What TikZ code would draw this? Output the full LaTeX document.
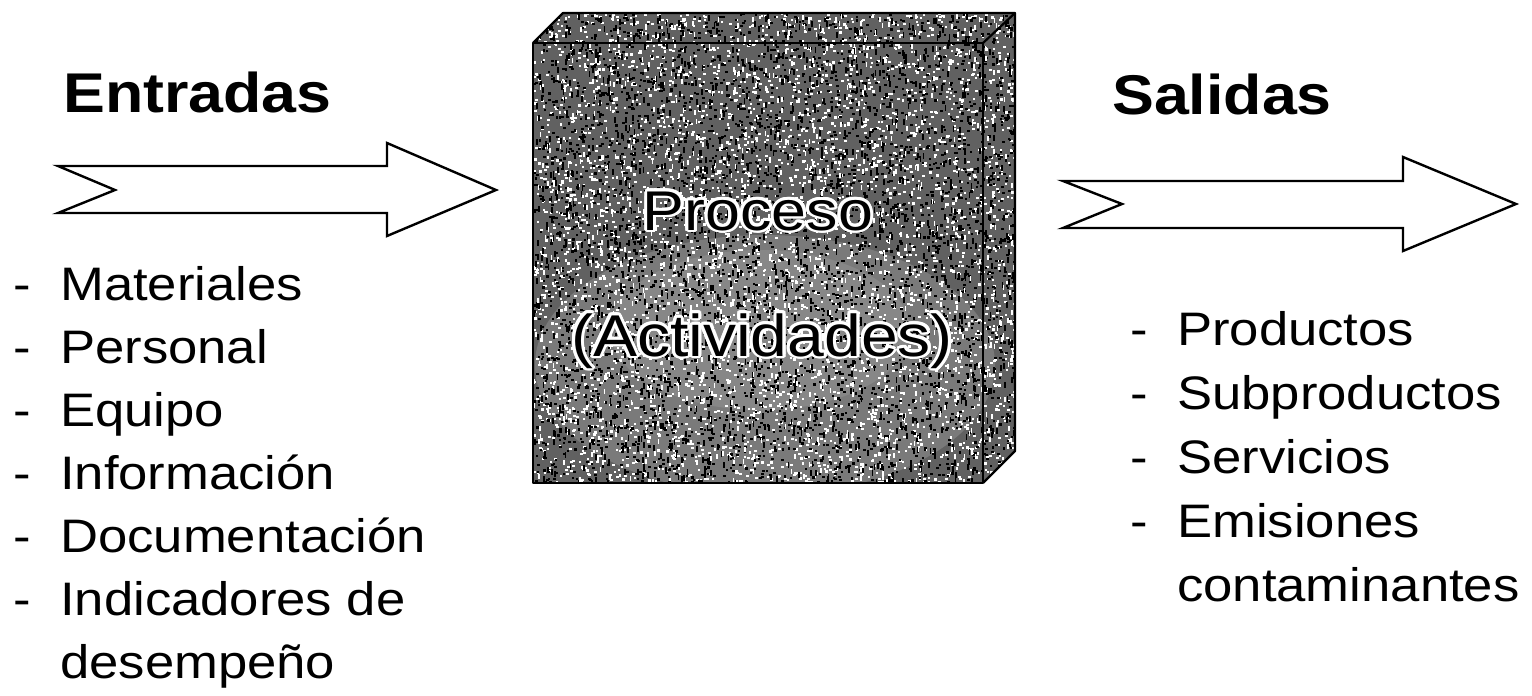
\documentclass[tikz,border=0pt]{standalone}
\usepackage{fontspec}
\setmainfont{Liberation Sans}[FakeStretch=1.12]
\tikzset{
  listtxt/.style={anchor=base west, inner sep=0pt, font=\fontsize{47}{56}\selectfont},
  headtxt/.style={anchor=base west, inner sep=0pt, font=\fontsize{56}{64}\selectfont\bfseries},
  proctxt/.style={anchor=base, inner sep=0pt},
  fatarrow/.style={draw=black, fill=white, line width=2.4pt, line join=miter},
  boxedge/.style={draw=black, line width=2.2pt, line join=round},
}
\newcommand{\dashitem}[1]{\makebox[47pt][l]{-}#1}
\newcommand{\halotext}[4]{%
  \foreach \a in {0,20,...,340}{\node[proctxt, font=#4, white, shift={(\a:3pt)}] at (#2) {#3};}
  \node[proctxt, font=#4, black] (#1) at (#2) {#3};}
\begin{document}
\begin{tikzpicture}[x=1pt, y=-1pt]
\useasboundingbox[fill=white] (0,0) rectangle (1532,696);

% ---------- headings ----------
\node[headtxt] (entradas) at (63,112) {Entradas};
\node[headtxt] (salidas) at (1112,114) {Salidas};

% ---------- left arrow ----------
\coordinate (la1) at (58,166);
\coordinate (la2) at (387,166);
\coordinate (la3) at (387,143);
\coordinate (latip) at (496,190);
\coordinate (la4) at (387,236);
\coordinate (la5) at (387,213);
\coordinate (la6) at (58,213);
\coordinate (lanotch) at (115,190);
\path[fatarrow] (la1) -- (la2) -- (la3) -- (latip) -- (la4) -- (la5) -- (la6) -- (lanotch) -- cycle;

% ---------- right arrow ----------
\coordinate (ra1) at (1063,181);
\coordinate (ra2) at (1403,181);
\coordinate (ra3) at (1403,157);
\coordinate (ratip) at (1516,204);
\coordinate (ra4) at (1403,251);
\coordinate (ra5) at (1403,228);
\coordinate (ra6) at (1063,228);
\coordinate (ranotch) at (1122,204);
\path[fatarrow] (ra1) -- (ra2) -- (ra3) -- (ratip) -- (ra4) -- (ra5) -- (ra6) -- (ranotch) -- cycle;

% ---------- process box ----------
\coordinate (fTL) at (533,43);
\coordinate (fTR) at (983,43);
\coordinate (fBR) at (983,483);
\coordinate (fBL) at (533,483);
\coordinate (bTL) at (563,13);
\coordinate (bTR) at (1015,13);
\coordinate (bBR) at (1015,451);
\begin{scope}
  \clip (fTL) -- (bTL) -- (bTR) -- (bBR) -- (fBR) -- (fBL) -- cycle;
  \fill[black!62] (533,13) rectangle (1015,483);
  \fill[white, opacity=0.16] (765,365) ellipse [x radius=230, y radius=130];
  \fill[white, opacity=0.10] (760,330) ellipse [x radius=150, y radius=80];
  \pgfmathsetseed{4242}
  \foreach \i in {1,...,4200}{%
    \pgfmathsetmacro{\xx}{533+482*rnd}%
    \pgfmathsetmacro{\yy}{13+470*rnd}%
    \fill[white] (\xx,\yy) rectangle ++(2.6,2.2);}
  \foreach \i in {1,...,3800}{%
    \pgfmathsetmacro{\xx}{533+482*rnd}%
    \pgfmathsetmacro{\yy}{13+470*rnd}%
    \fill[black] (\xx,\yy) rectangle ++(2.6,2.2);}
  \foreach \i in {1,...,1200}{%
    \pgfmathsetmacro{\xx}{533+482*rnd}%
    \pgfmathsetmacro{\yy}{13+470*rnd}%
    \fill[black] (\xx,\yy) rectangle ++(1.8,6);}
  \foreach \i in {1,...,700}{%
    \pgfmathsetmacro{\xx}{533+482*rnd}%
    \pgfmathsetmacro{\yy}{13+470*rnd}%
    \fill[white] (\xx,\yy) rectangle ++(1.6,5);}
\end{scope}
\draw[boxedge] (fTL) -- (fTR) -- (fBR) -- (fBL) -- cycle;
\draw[boxedge] (fTL) -- (bTL) -- (bTR) -- (fTR);
\draw[boxedge] (bTR) -- (bBR) -- (fBR);

\halotext{proceso}{758,230}{Proceso}{\fontsize{56}{64}\selectfont}
\halotext{actividades}{762,356}{(Actividades)}{\fontsize{59}{66}\selectfont}

% ---------- inputs list ----------
\node[listtxt] (i1) at (13,300) {\dashitem{Materiales}};
\node[listtxt] (i2) at (13,363) {\dashitem{Personal}};
\node[listtxt] (i3) at (13,426) {\dashitem{Equipo}};
\node[listtxt] (i4) at (13,489) {\dashitem{Información}};
\node[listtxt] (i5) at (13,552) {\dashitem{Documentación}};
\node[listtxt] (i6) at (13,615) {\dashitem{Indicadores de}};
\node[listtxt] (i7) at (13,678) {\hspace*{47pt}desempeño};

% ---------- outputs list ----------
\node[listtxt] (o1) at (1130,345) {\dashitem{Productos}};
\node[listtxt] (o2) at (1130,409) {\dashitem{Subproductos}};
\node[listtxt] (o3) at (1130,473) {\dashitem{Servicios}};
\node[listtxt] (o4) at (1130,537) {\dashitem{Emisiones}};
\node[listtxt] (o5) at (1130,601) {\hspace*{47pt}contaminantes};
\end{tikzpicture}
\end{document}
